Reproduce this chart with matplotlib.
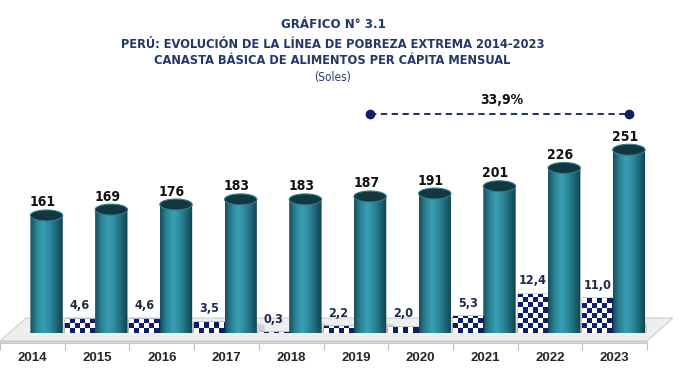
import numpy as np
import matplotlib
matplotlib.use("Agg")
import matplotlib.pyplot as plt
from matplotlib.patches import PathPatch, Polygon, Rectangle
from matplotlib.path import Path
from matplotlib.colors import LinearSegmentedColormap

years = ["2014", "2015", "2016", "2017", "2018", "2019", "2020", "2021", "2022", "2023"]
valores = [161, 169, 176, 183, 183, 187, 191, 201, 226, 251]
variacion = [None, 4.6, 4.6, 3.5, 0.3, 2.2, 2.0, 5.3, 12.4, 11.0]
var_total = "33,9%"

plt.rcParams['font.family'] = ['Liberation Sans', 'DejaVu Sans']
cond = dict(family="DejaVu Sans", fontstretch="condensed")   # fuente angosta

navy = "#0c1f66"
title_col = "#22386a"

fig = plt.figure(figsize=(6.8, 3.8), dpi=100)
ax = fig.add_axes([0, 47/380, 647/680, 238/380])
ax2 = ax.twinx()
ax.set_xlim(-0.5, 9.5)
ax.set_ylim(0, 238/0.73)
ax2.set_ylim(0, 238/3.15)
ax.patch.set_visible(False)
for a in (ax, ax2):
    for s in a.spines.values():
        s.set_visible(False)
    a.set_yticks([])

x = np.arange(len(years))
u_per_px_x = 10/647
u_per_px_y = 1/0.73

# piso en perspectiva
front = -8*u_per_px_y
back = 15*u_per_px_y
shift = 26*u_per_px_x
floor = Polygon([[-0.5, front], [9.5, front], [9.5+shift, back], [-0.5+shift, back]],
                closed=True, facecolor="#eeeeee", edgecolor="#cfcfcf", lw=0.8,
                clip_on=False, zorder=1)
ax.add_patch(floor)
ax.add_patch(Rectangle((-0.5, front - 2*u_per_px_y), 10, 2*u_per_px_y, facecolor="#d9d9d9",
                       edgecolor="#c4c4c4", lw=0.6, clip_on=False, zorder=1))
ax.vlines(np.arange(-0.5, 10, 1), front - 9*u_per_px_y, front - 2*u_per_px_y,
          color="#bdbdbd", lw=0.8, clip_on=False)

# cilindros
cyl_w = 0.5
cyl_off = 0.22
eh = 11*u_per_px_y
grad = LinearSegmentedColormap.from_list("cyl", ["#174f5c", "#2a8396", "#3a9fb3", "#2c8a9e", "#1e6878", "#123f49"])
g = np.linspace(0, 1, 200).reshape(1, -1)
for xi, v in zip(x, valores):
    xc = xi + cyl_off
    x0, x1 = xc - cyl_w/2, xc + cyl_w/2
    # sombra
    ax.add_patch(Polygon([[x1 - 0.02, -eh/2], [x1 + 0.12, 2*u_per_px_y], [x1 + 0.12, 8*u_per_px_y], [x1, 10*u_per_px_y]],
                         closed=True, facecolor="#c8c8c8", edgecolor="none", alpha=0.7, zorder=2))
    th = np.linspace(0, -np.pi, 50)
    bx = xc + cyl_w/2*np.cos(th)
    by = eh/2*np.sin(th)
    verts = np.vstack([[x0, v], [x1, v], np.column_stack([bx, by]), [x0, v]])
    body = PathPatch(Path(verts), facecolor="none", edgecolor="none")
    ax.add_patch(body)
    im = ax.imshow(g, cmap=grad, aspect="auto", extent=(x0, x1, -eh/2, v), zorder=3)
    im.set_clip_path(body)
    th2 = np.linspace(0, 2*np.pi, 80)
    top = Polygon(np.column_stack([xc + cyl_w/2*np.cos(th2), v + eh/2*np.sin(th2)]),
                  closed=True, facecolor="#113740", edgecolor="#2f7f90", lw=0.8, zorder=4)
    ax.add_patch(top)
    ax.text(xc - 0.06, v + 13*u_per_px_y, f"{v}", ha="center", va="center",
            fontsize=10, fontweight="bold", color="#111111", zorder=5, **cond)

ax.set_xlim(-0.5, 9.5)

# barras de variacion (cuadriculadas)
chk_w = 0.46
chk_off = -0.27
cell = 5/3.15
for xi, v in zip(x, variacion):
    if v is None:
        continue
    xc = xi + chk_off
    x0 = xc - chk_w/2
    nrows = int(np.ceil(v/cell)) + 1
    board = (np.add.outer(np.arange(nrows), np.arange(6)) % 2).astype(float)
    frame = Rectangle((x0, 0), chk_w, v, facecolor="white", edgecolor=navy, lw=1.0, zorder=3)
    ax2.add_patch(frame)
    im = ax2.imshow(board[::-1], cmap=LinearSegmentedColormap.from_list("ck", ["white", navy]),
                    interpolation="nearest", aspect="auto",
                    extent=(x0, x0 + chk_w, 0, nrows*cell), zorder=3)
    im.set_clip_path(frame)
    ax2.text(xc, v + 13/3.15, f"{v:.1f}".replace(".", ","), ha="center", va="center",
             fontsize=9, fontweight="bold", color="#1d2a4a", zorder=5, **cond)
ax2.set_xlim(-0.5, 9.5)

# linea de crecimiento
ly = 219*u_per_px_y
ax.plot([x[5] + cyl_off, x[9] + cyl_off], [ly, ly], ls=(0, (3.5, 2.5)), color=navy, lw=1.3,
        marker="o", ms=6, zorder=5, clip_on=False)
ax.text((x[5] + x[9])/2 + cyl_off + 0.04, ly + 14*u_per_px_y, var_total, ha="center", va="center",
        fontsize=10, fontweight="bold", color="#111111", **cond)

ax.set_xticks(x)
ax.set_xticklabels(years, fontsize=9.5, fontweight="bold", color="#262626")
ax.tick_params(axis="x", length=0, pad=14)

fig.text(0.49, 1 - 24/380, "GRÁFICO N° 3.1", ha="center", va="center",
         fontsize=9.5, fontweight="bold", color=title_col, **cond)
fig.text(0.489, 1 - 44/380, "PERÚ: EVOLUCIÓN DE LA LÍNEA DE POBREZA EXTREMA 2014-2023",
         ha="center", va="center", fontsize=9.2, fontweight="bold", color=title_col, **cond)
fig.text(0.489, 1 - 60/380, "CANASTA BÁSICA DE ALIMENTOS PER CÁPITA MENSUAL",
         ha="center", va="center", fontsize=9.2, fontweight="bold", color=title_col, **cond)
fig.text(0.489, 1 - 78/380, "(Soles)", ha="center", va="center",
         fontsize=8.5, color=title_col, **cond)

fig.savefig("out.png", dpi=100)
